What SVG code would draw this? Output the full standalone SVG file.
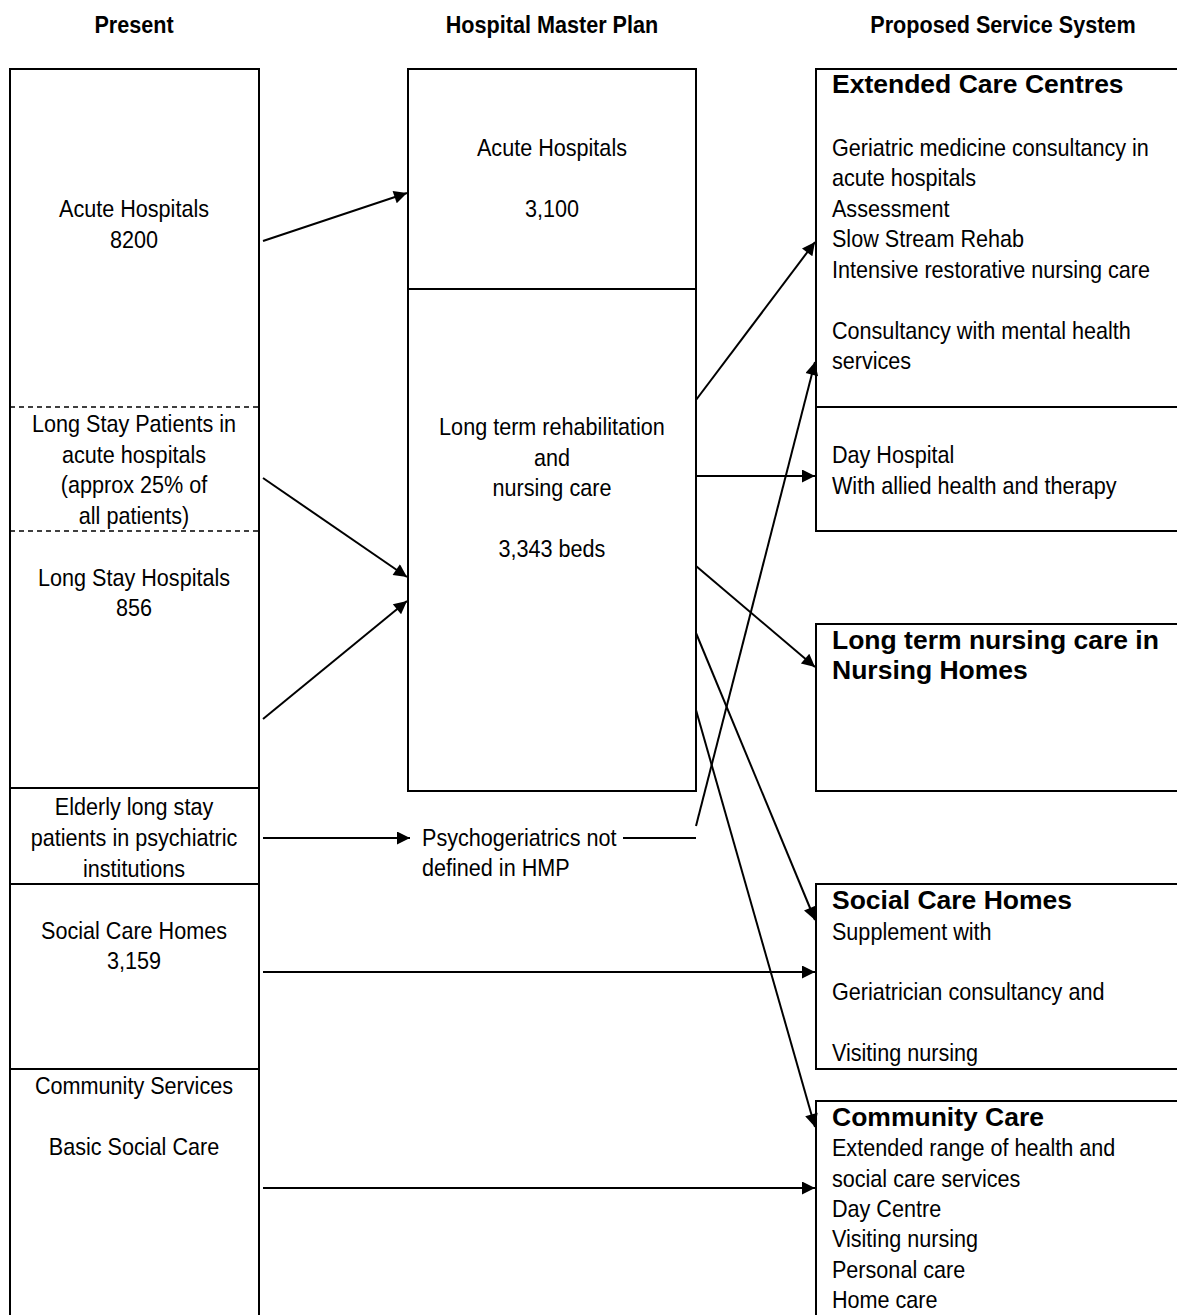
<svg xmlns="http://www.w3.org/2000/svg" width="1177" height="1315" viewBox="0 0 1177 1315">
  <style>
    text { font-family: "Liberation Sans", Arial, sans-serif; font-size: 24px; fill: #000; }
    .hdr { font-weight: bold; text-anchor: middle; }
    .c { text-anchor: middle; }
    .ttl { font-weight: bold; font-size: 26.5px; }
    .box { fill: none; stroke: #000; stroke-width: 2; }
    .dash { fill: none; stroke: #000; stroke-width: 1.5; stroke-dasharray: 5 4; }
    .arr { fill: none; stroke: #000; stroke-width: 2; marker-end: url(#head); }
    .ln { fill: none; stroke: #000; stroke-width: 2; }
  </style>
  <defs>
    <marker id="head" viewBox="0 0 10 10" refX="10" refY="5" markerWidth="8.5" markerHeight="6.5" markerUnits="strokeWidth" orient="auto">
      <path d="M0,0 L10,5 L0,10 z" fill="#000"/>
    </marker>
  </defs>
  <rect width="1177" height="1315" fill="#fff"/>

  <!-- column headings (narrow face emulated with a horizontal squeeze) -->
  <g id="headings" transform="scale(0.9 1)">
    <text class="hdr" x="148.9" y="33">Present</text>
    <text class="hdr" x="613.3" y="33">Hospital Master Plan</text>
    <text class="hdr" x="1114.4" y="33">Proposed Service System</text>
  </g>

  <!-- present column -->
  <g id="present">
    <rect class="box" x="10" y="69" width="249" height="1260"/>
    <line class="dash" x1="10" y1="407" x2="259" y2="407"/>
    <line class="dash" x1="10" y1="531" x2="259" y2="531"/>
    <line class="box" x1="10" y1="788" x2="259" y2="788"/>
    <line class="box" x1="10" y1="884" x2="259" y2="884"/>
    <line class="box" x1="10" y1="1069" x2="259" y2="1069"/>
  </g>
  <g id="present-acute" transform="scale(0.9 1)">
    <text class="c" x="148.9" y="217.5">Acute Hospitals</text>
    <text class="c" x="148.9" y="248.5">8200</text>
  </g>
  <g id="present-longstay-acute" transform="scale(0.9 1)">
    <text class="c" x="148.9" y="432.5">Long Stay Patients in</text>
    <text class="c" x="148.9" y="463.5">acute hospitals</text>
    <text class="c" x="148.9" y="493.5">(approx 25% of</text>
    <text class="c" x="148.9" y="524.5">all patients)</text>
  </g>
  <g id="present-longstay-hosp" transform="scale(0.9 1)">
    <text class="c" x="148.9" y="586.5">Long Stay Hospitals</text>
    <text class="c" x="148.9" y="616.5">856</text>
  </g>
  <g id="present-psych" transform="scale(0.9 1)">
    <text class="c" x="148.9" y="815.5">Elderly long stay</text>
    <text class="c" x="148.9" y="846.5">patients in psychiatric</text>
    <text class="c" x="148.9" y="877.5">institutions</text>
  </g>
  <g id="present-social" transform="scale(0.9 1)">
    <text class="c" x="148.9" y="939.5">Social Care Homes</text>
    <text class="c" x="148.9" y="969.5">3,159</text>
  </g>
  <g id="present-community" transform="scale(0.9 1)">
    <text class="c" x="148.9" y="1094.5">Community Services</text>
    <text class="c" x="148.9" y="1155.5">Basic Social Care</text>
  </g>

  <!-- hospital master plan column -->
  <g id="hmp-acute">
    <rect class="box" x="408" y="69" width="288" height="220"/>
    <g transform="scale(0.9 1)">
      <text class="c" x="613.3" y="156.5">Acute Hospitals</text>
      <text class="c" x="613.3" y="217.5">3,100</text>
    </g>
  </g>
  <g id="hmp-longterm">
    <rect class="box" x="408" y="289" width="288" height="502"/>
    <g transform="scale(0.9 1)">
      <text class="c" x="613.3" y="435.5">Long term rehabilitation</text>
      <text class="c" x="613.3" y="466.5">and</text>
      <text class="c" x="613.3" y="496.5">nursing care</text>
      <text class="c" x="613.3" y="557.5">3,343 beds</text>
    </g>
  </g>
  <g id="hmp-psycho" transform="scale(0.9 1)">
    <text x="468.9" y="846.5">Psychogeriatrics not</text>
    <text x="468.9" y="876.5">defined in HMP</text>
  </g>

  <!-- proposed service system column -->
  <g id="ecc">
    <rect class="box" x="816" y="69" width="380" height="462"/>
    <line class="box" x1="816" y1="407" x2="1196" y2="407"/>
    <text class="ttl" x="832" y="93">Extended Care Centres</text>
    <g transform="scale(0.9 1)">
      <text x="924.4" y="156.5">Geriatric medicine consultancy in</text>
      <text x="924.4" y="186.5">acute hospitals</text>
      <text x="924.4" y="217.5">Assessment</text>
      <text x="924.4" y="247.5">Slow Stream Rehab</text>
      <text x="924.4" y="278.5">Intensive restorative nursing care</text>
      <text x="924.4" y="339.5">Consultancy with mental health</text>
      <text x="924.4" y="369.5">services</text>
    </g>
  </g>
  <g id="day-hospital" transform="scale(0.9 1)">
    <text x="924.4" y="463.5">Day Hospital</text>
    <text x="924.4" y="494.5">With allied health and therapy</text>
  </g>
  <g id="nursing-homes">
    <rect class="box" x="816" y="624" width="380" height="167"/>
    <text class="ttl" x="832" y="649">Long term nursing care in</text>
    <text class="ttl" x="832" y="679">Nursing Homes</text>
  </g>
  <g id="social-care">
    <rect class="box" x="816" y="884" width="380" height="185"/>
    <text class="ttl" x="832" y="909">Social Care Homes</text>
    <g transform="scale(0.9 1)">
      <text x="924.4" y="940">Supplement with</text>
      <text x="924.4" y="1000">Geriatrician consultancy and</text>
      <text x="924.4" y="1061">Visiting nursing</text>
    </g>
  </g>
  <g id="community-care">
    <rect class="box" x="816" y="1101" width="380" height="240"/>
    <text class="ttl" x="832" y="1126">Community Care</text>
    <g transform="scale(0.9 1)">
      <text x="924.4" y="1156">Extended range of health and</text>
      <text x="924.4" y="1187">social care services</text>
      <text x="924.4" y="1217">Day Centre</text>
      <text x="924.4" y="1247">Visiting nursing</text>
      <text x="924.4" y="1278">Personal care</text>
      <text x="924.4" y="1308">Home care</text>
    </g>
  </g>

  <!-- connectors -->
  <g id="connectors">
    <line class="arr" x1="263" y1="241" x2="407" y2="193"/>
    <line class="arr" x1="263" y1="478" x2="407" y2="577"/>
    <line class="arr" x1="263" y1="719" x2="407" y2="601"/>
    <line class="arr" x1="696" y1="400" x2="815" y2="242"/>
    <line class="arr" x1="696" y1="476" x2="815" y2="476"/>
    <line class="arr" x1="696" y1="566" x2="815" y2="667"/>
    <line class="arr" x1="696" y1="633" x2="815" y2="920"/>
    <line class="arr" x1="696" y1="710" x2="815" y2="1127"/>
    <line class="arr" x1="263" y1="838" x2="410" y2="838"/>
    <path class="ln" d="M623,838 H696"/>
    <line class="arr" x1="696" y1="826" x2="815" y2="362"/>
    <line class="arr" x1="263" y1="972" x2="815" y2="972"/>
    <line class="arr" x1="263" y1="1188" x2="815" y2="1188"/>
  </g>
</svg>
